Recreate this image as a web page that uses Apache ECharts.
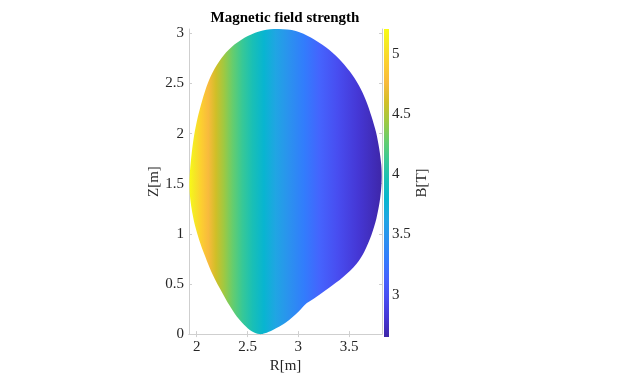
<!DOCTYPE html>
<html>
<head>
<meta charset="utf-8">
<script src="https://cdn.jsdelivr.net/npm/echarts@6/dist/echarts.min.js"></script>
<style>
  html, body { margin: 0; padding: 0; background: #fff; }
  #chart { width: 628px; height: 379px; }
</style>
</head>
<body>
<div id="chart"></div>
<script>
// plasma boundary (R, Z in metres), going round from the bottom point
const boundaryR = [2.616, 2.670, 2.749, 2.877, 3.008, 3.084, 3.172, 3.303, 3.438, 3.571, 3.650, 3.719, 3.768,
  3.800, 3.815, 3.820, 3.816, 3.796, 3.764, 3.719, 3.665, 3.596, 3.507, 3.399, 3.271, 3.123, 2.975, 2.808,
  2.650, 2.502, 2.374, 2.266, 2.177, 2.108, 2.054, 2.010, 1.975, 1.951, 1.934, 1.928, 1.936, 1.956, 1.985,
  2.025, 2.074, 2.128, 2.187, 2.251, 2.320, 2.394, 2.468, 2.537]
const boundaryZ = [0.000, 0.009, 0.042, 0.116, 0.231, 0.309, 0.368, 0.462, 0.566, 0.699, 0.825, 0.989, 1.154,
  1.319, 1.450, 1.570, 1.686, 1.847, 2.015, 2.173, 2.331, 2.480, 2.618, 2.747, 2.861, 2.959, 3.024, 3.043,
  3.029, 2.974, 2.890, 2.781, 2.648, 2.500, 2.331, 2.163, 1.985, 1.807, 1.629, 1.491, 1.352, 1.214, 1.075,
  0.937, 0.798, 0.660, 0.531, 0.412, 0.289, 0.175, 0.091, 0.032]

// field strength across the major radius (B in tesla)
const fieldR = [1.924, 2.0, 2.2, 2.4, 2.6, 2.8, 3.0, 3.2, 3.4, 3.6, 3.823]
const fieldB = [5.207, 5.02, 4.57, 4.19, 3.87, 3.59, 3.36, 3.15, 2.96, 2.80, 2.648]

const rTicks = [2, 2.5, 3, 3.5]
const zTicks = [0, 0.5, 1, 1.5, 2, 2.5, 3]
const bTicks = [3, 3.5, 4, 4.5, 5]

const rRange = [1.924, 3.823]
const zRange = [0, 3.043]
const bRange = [2.648, 5.207]

// parula, every 4th entry of the 64 colour table
const parula = [
  [0 / 63, [0.2422, 0.1504, 0.6603]],
  [4 / 63, [0.2706, 0.2147, 0.8364]],
  [8 / 63, [0.2813, 0.3006, 0.9414]],
  [12 / 63, [0.2699, 0.3892, 0.9906]],
  [16 / 63, [0.1963, 0.4847, 0.9892]],
  [20 / 63, [0.1687, 0.5703, 0.9359]],
  [24 / 63, [0.1248, 0.6459, 0.8883]],
  [28 / 63, [0.0297, 0.7082, 0.8163]],
  [32 / 63, [0.0964, 0.7500, 0.7120]],
  [36 / 63, [0.2161, 0.7843, 0.5923]],
  [40 / 63, [0.3909, 0.8029, 0.4354]],
  [44 / 63, [0.6174, 0.7876, 0.2612]],
  [48 / 63, [0.8203, 0.7498, 0.1535]],
  [52 / 63, [0.9728, 0.7298, 0.2394]],
  [56 / 63, [0.9892, 0.8136, 0.1885]],
  [60 / 63, [0.9597, 0.9135, 0.1423]],
  [63 / 63, [0.9769, 0.9839, 0.0805]],
]

const FONT = 'Liberation Serif'
const AXIS_GREY = '#cfcfcf'
const TEXT = '#262626'

function toRgb(c) {
  return 'rgb(' + c.map(v => Math.round(v * 255)).join(',') + ')'
}

// radius where the field drops to b
function radiusAt(b) {
  for (let i = 0; i < fieldR.length - 1; i++) {
    const b0 = fieldB[i], b1 = fieldB[i + 1]
    if (b <= b0 && b >= b1) {
      return fieldR[i] + (b0 - b) / (b0 - b1) * (fieldR[i + 1] - fieldR[i])
    }
  }
  return b > fieldB[0] ? fieldR[0] : fieldR[fieldR.length - 1]
}

function renderShape(params, api) {
  const points = boundaryR.map((r, i) => api.coord([r, boundaryZ[i]]))
  const x0 = api.coord([fieldR[0], 0])[0]
  const x1 = api.coord([fieldR[fieldR.length - 1], 0])[0]
  const stops = parula.map(([t, c]) => {
    const b = bRange[0] + t * (bRange[1] - bRange[0])
    const x = api.coord([radiusAt(b), 0])[0]
    const off = Math.min(1, Math.max(0, (x - x0) / (x1 - x0)))
    return { offset: off, color: toRgb(c) }
  }).sort((a, b) => a.offset - b.offset)
  return {
    type: 'polygon',
    shape: { points, smooth: 0.3 },
    style: { fill: new echarts.graphic.LinearGradient(x0, 0, x1, 0, stops, true), stroke: null },
  }
}

function renderBar(params, api) {
  const p0 = api.coord([0, bRange[0]])
  const p1 = api.coord([1, bRange[1]])
  return {
    type: 'rect',
    shape: { x: p0[0], y: p1[1], width: p1[0] - p0[0], height: p0[1] - p1[1] },
    style: {
      fill: new echarts.graphic.LinearGradient(0, 1, 0, 0,
        parula.map(([t, c]) => ({ offset: t, color: toRgb(c) }))),
    },
  }
}

const labelStyle = { color: TEXT, fontSize: 15, fontFamily: FONT }
const lineStyle = { color: AXIS_GREY, width: 1 }

const chart = echarts.init(document.getElementById('chart'), null, { renderer: 'canvas' })

chart.setOption({
  backgroundColor: '#fff',
  animation: false,
  graphic: [{
    type: 'text',
    x: 285,
    y: 18,
    style: {
      text: 'Magnetic field strength',
      font: 'bold 15px "Liberation Serif"',
      fill: '#000',
      textAlign: 'center',
      textVerticalAlign: 'middle',
    },
  }],
  grid: [
    { left: 189, right: 246, top: 29, bottom: 42 },
    { left: 384, width: 5, top: 29, bottom: 42 },
  ],
  xAxis: [
    {
      gridIndex: 0, type: 'value', position: 'bottom', min: rRange[0], max: rRange[1],
      name: 'R[m]', nameLocation: 'middle', nameGap: 22,
      nameTextStyle: { color: TEXT, fontSize: 15, fontFamily: FONT },
      axisLine: { lineStyle },
      axisTick: { inside: true, length: 3, lineStyle, customValues: rTicks },
      axisLabel: { ...labelStyle, margin: 5, customValues: rTicks },
      splitLine: { show: false },
    },
    {
      gridIndex: 0, type: 'value', position: 'top', min: rRange[0], max: rRange[1],
      axisLine: { lineStyle },
      axisTick: { inside: true, length: 3, lineStyle, customValues: rTicks },
      axisLabel: { show: false },
      splitLine: { show: false },
    },
    { gridIndex: 1, type: 'value', min: 0, max: 1, show: false },
  ],
  yAxis: [
    {
      gridIndex: 0, type: 'value', position: 'left', min: zRange[0], max: zRange[1],
      name: 'Z[m]', nameLocation: 'middle', nameGap: 19, nameRotate: 90,
      nameTextStyle: { color: TEXT, fontSize: 15, fontFamily: FONT },
      axisLine: { lineStyle },
      axisTick: { inside: true, length: 3, lineStyle, customValues: zTicks },
      axisLabel: { ...labelStyle, margin: 5, customValues: zTicks },
      splitLine: { show: false },
    },
    {
      gridIndex: 0, type: 'value', position: 'right', min: zRange[0], max: zRange[1],
      axisLine: { lineStyle },
      axisTick: { inside: true, length: 3, lineStyle, customValues: zTicks },
      axisLabel: { show: false },
      splitLine: { show: false },
    },
    {
      gridIndex: 1, type: 'value', position: 'right', min: bRange[0], max: bRange[1],
      name: 'B[T]', nameLocation: 'middle', nameGap: 17, nameRotate: 90,
      nameTextStyle: { color: TEXT, fontSize: 15, fontFamily: FONT },
      axisLine: { show: false },
      axisTick: { show: false },
      axisLabel: { ...labelStyle, margin: 3, customValues: bTicks },
      splitLine: { show: false },
    },
  ],
  series: [
    {
      type: 'custom',
      xAxisIndex: 0,
      yAxisIndex: 0,
      renderItem: renderShape,
      data: [[rRange[0], zRange[0]]],
      silent: true,
    },
    {
      type: 'custom',
      xAxisIndex: 2,
      yAxisIndex: 2,
      renderItem: renderBar,
      data: [[0, bRange[0]]],
      silent: true,
    },
  ],
})
</script>
</body>
</html>
